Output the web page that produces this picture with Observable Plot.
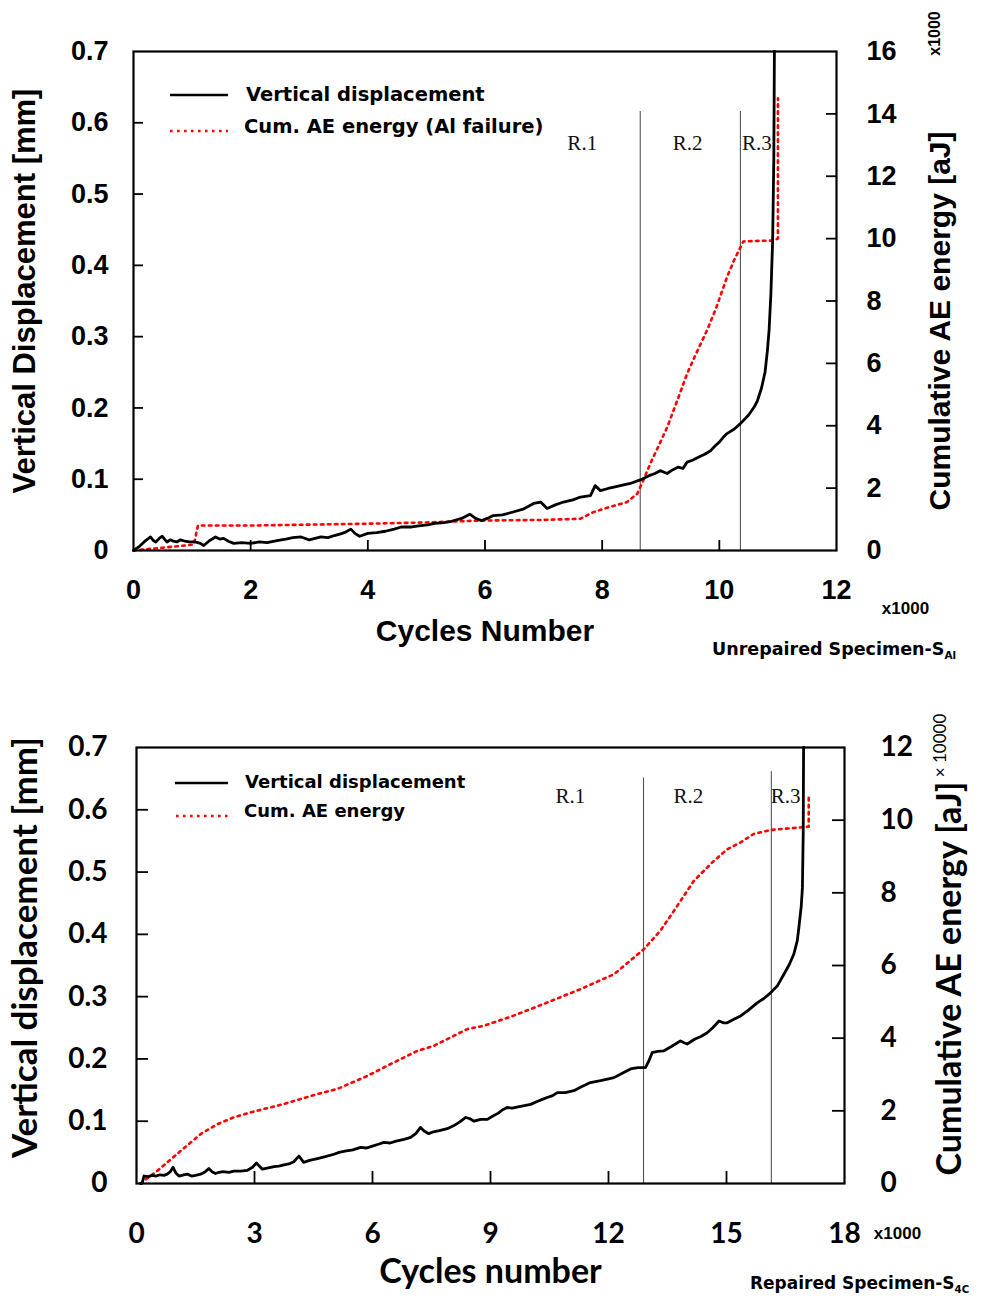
<!DOCTYPE html>
<html><head><meta charset="utf-8">
<script src="https://cdn.jsdelivr.net/npm/d3@7"></script>
<script src="https://cdn.jsdelivr.net/npm/@observablehq/plot@0.6"></script>
<style>
body{margin:0;background:#fff;}
#wrap{position:relative;width:983px;height:1297px;overflow:hidden;background:#fff;}
.panel{position:absolute;left:0;}
.leg{position:absolute;font-family:"DejaVu Sans",Verdana,sans-serif;font-weight:bold;white-space:nowrap;color:#000;line-height:1;}
.cap{position:absolute;font-family:"DejaVu Sans",Verdana,sans-serif;font-weight:bold;white-space:nowrap;color:#000;line-height:1;}
.cap sub{font-size:0.6em;vertical-align:-0.35em;}
svg.legline{position:absolute;overflow:visible;}
</style></head><body><div id="wrap"></div>
<script>
// ---------- Top panel (Unrepaired specimen) ----------
const topXTicks = [0, 2, 4, 6, 8, 10, 12];             // cycles x1000
const topYTicks = [0, 0.1, 0.2, 0.3, 0.4, 0.5, 0.6, 0.7]; // mm
const topY2Ticks = [0, 2, 4, 6, 8, 10, 12, 14, 16];    // aJ x1000
const topRegions = [8.65, 10.36];
const topRegionTop = [0.616, 0.616];
const topRegionLabels = ["R.1", "R.2", "R.3"];
const topRegionLabelX = [7.66, 9.46, 10.64];
const topDisp = [
  [0,0],[0.09,0.005],[0.18,0.012],[0.24,0.016],[0.29,0.019],[0.34,0.014],[0.38,0.012],[0.44,0.017],[0.49,0.02],[0.54,0.015],[0.57,0.012],[0.63,0.015],[0.68,0.013],[0.74,0.012],[0.8,0.015],[0.88,0.013],[0.95,0.012],[1.05,0.012],[1.14,0.01],[1.2,0.007],[1.3,0.014],[1.4,0.019],[1.47,0.016],[1.54,0.017],[1.62,0.013],[1.71,0.01],[1.85,0.011],[2.0,0.01],[2.15,0.012],[2.28,0.011],[2.45,0.014],[2.6,0.016],[2.72,0.018],[2.86,0.019],[3.0,0.015],[3.1,0.017],[3.2,0.019],[3.32,0.018],[3.43,0.021],[3.52,0.023],[3.6,0.025],[3.71,0.03],[3.78,0.024],[3.86,0.02],[4.0,0.024],[4.15,0.025],[4.3,0.027],[4.45,0.03],[4.57,0.033],[4.75,0.033],[4.9,0.035],[5.02,0.036],[5.14,0.038],[5.3,0.039],[5.43,0.041],[5.6,0.045],[5.74,0.051],[5.84,0.045],[5.94,0.042],[6.04,0.045],[6.14,0.049],[6.3,0.05],[6.48,0.054],[6.65,0.058],[6.83,0.066],[6.95,0.068],[7.06,0.059],[7.2,0.064],[7.34,0.068],[7.5,0.071],[7.63,0.075],[7.8,0.077],[7.88,0.091],[7.97,0.084],[8.1,0.087],[8.2,0.089],[8.31,0.091],[8.48,0.094],[8.65,0.099],[8.8,0.105],[8.9,0.108],[8.99,0.112],[9.11,0.108],[9.2,0.113],[9.3,0.117],[9.38,0.115],[9.45,0.124],[9.55,0.127],[9.65,0.131],[9.75,0.135],[9.85,0.14],[9.93,0.147],[10.0,0.152],[10.08,0.16],[10.13,0.164],[10.25,0.17],[10.36,0.178],[10.5,0.19],[10.6,0.202],[10.65,0.21],[10.72,0.228],[10.78,0.25],[10.82,0.28],[10.85,0.31],[10.88,0.36],[10.91,0.435],[10.93,0.55],[10.94,0.7]
];
const topAE = [
  [0,0],[0.5,0.09],[1.03,0.19],[1.1,0.8],[2,0.8],[3,0.83],[4,0.86],[5,0.9],[5.92,0.96],[7,0.98],[7.63,1.02],[7.85,1.23],[8.1,1.38],[8.42,1.55],[8.6,1.82],[8.7,2.24],[8.82,2.78],[8.95,3.3],[9.11,3.95],[9.3,4.9],[9.45,5.67],[9.6,6.3],[9.8,7.1],[9.95,7.8],[10.13,8.76],[10.25,9.3],[10.36,9.72],[10.41,9.91],[10.7,9.93],[10.92,9.94],[11.0,10.0],[11.0,14.5]
];

// ---------- Bottom panel (Repaired specimen) ----------
const botXTicks = [0, 3, 6, 9, 12, 15, 18];
const botYTicks = [0, 0.1, 0.2, 0.3, 0.4, 0.5, 0.6, 0.7];
const botY2Ticks = [0, 2, 4, 6, 8, 10, 12];            // aJ x10000
const botRegions = [12.89, 16.14];
const botRegionTop = [0.651, 0.661];
const botRegionLabels = ["R.1", "R.2", "R.3"];
const botRegionLabelX = [11.03, 14.03, 16.5];
const botDisp = [
  [0.1,0],[0.14,0.0],[0.19,0.012],[0.3,0.011],[0.4,0.013],[0.5,0.012],[0.6,0.014],[0.7,0.013],[0.78,0.015],[0.86,0.019],[0.93,0.026],[1.0,0.017],[1.08,0.012],[1.2,0.014],[1.3,0.015],[1.4,0.012],[1.5,0.013],[1.63,0.015],[1.75,0.019],[1.84,0.024],[1.92,0.019],[2.01,0.016],[2.1,0.018],[2.2,0.019],[2.35,0.018],[2.47,0.02],[2.65,0.02],[2.81,0.021],[2.95,0.026],[3.05,0.033],[3.12,0.028],[3.2,0.023],[3.35,0.025],[3.5,0.027],[3.62,0.028],[3.75,0.03],[3.9,0.032],[4.0,0.035],[4.13,0.044],[4.18,0.04],[4.25,0.034],[4.4,0.037],[4.6,0.04],[4.8,0.043],[5.02,0.047],[5.15,0.05],[5.3,0.052],[5.5,0.054],[5.7,0.058],[5.85,0.057],[6.0,0.06],[6.15,0.063],[6.29,0.066],[6.45,0.065],[6.6,0.068],[6.8,0.071],[6.97,0.074],[7.1,0.08],[7.22,0.09],[7.32,0.084],[7.43,0.08],[7.55,0.083],[7.7,0.085],[7.9,0.088],[8.07,0.093],[8.22,0.099],[8.37,0.106],[8.48,0.104],[8.58,0.1],[8.75,0.103],[8.92,0.103],[9.05,0.108],[9.2,0.113],[9.3,0.118],[9.42,0.122],[9.55,0.121],[9.7,0.123],[9.86,0.125],[10.02,0.127],[10.2,0.132],[10.32,0.135],[10.44,0.138],[10.58,0.141],[10.7,0.146],[10.9,0.146],[11.12,0.149],[11.3,0.155],[11.54,0.162],[11.8,0.165],[12.0,0.168],[12.14,0.17],[12.35,0.177],[12.56,0.184],[12.75,0.186],[12.94,0.186],[13.02,0.196],[13.11,0.21],[13.25,0.212],[13.41,0.213],[13.6,0.22],[13.83,0.229],[13.92,0.226],[14.0,0.224],[14.2,0.232],[14.35,0.236],[14.51,0.242],[14.65,0.25],[14.81,0.261],[14.92,0.258],[15.02,0.258],[15.2,0.264],[15.36,0.269],[15.55,0.278],[15.78,0.29],[15.95,0.297],[16.12,0.306],[16.3,0.318],[16.46,0.336],[16.6,0.352],[16.71,0.368],[16.8,0.39],[16.84,0.411],[16.9,0.445],[16.93,0.475],[16.95,0.561],[16.96,0.7]
];
const botAE = [
  [0.1,0],[0.53,0.35],[1.03,0.81],[1.63,1.36],[2.05,1.63],[2.47,1.82],[2.98,1.98],[3.75,2.19],[4.59,2.46],[5.1,2.6],[5.87,2.96],[6.37,3.24],[7.14,3.65],[7.56,3.79],[8.41,4.25],[8.83,4.34],[9.59,4.62],[10.44,4.98],[11.29,5.35],[12.14,5.76],[12.9,6.45],[13.32,6.96],[13.66,7.5],[14.17,8.33],[14.68,8.88],[15.02,9.2],[15.36,9.39],[15.69,9.62],[16.12,9.73],[17.09,9.82],[17.09,10.62]
];

function fmtY(d) { return d === 0 ? "0" : d.toFixed(1); }

function makePanel(o) {
  const fw = o.width - o.ml - o.mr, fh = o.height - o.mt - o.mb;
  const k = o.yMax / o.y2Max;
  const bold = "bold";
  return Plot.plot({
    width: o.width, height: o.height,
    marginLeft: o.ml, marginRight: o.mr, marginTop: o.mt, marginBottom: o.mb,
    x: {domain: [0, o.xMax]}, y: {domain: [0, o.yMax]},
    style: {fontFamily: o.font, color: "#000", background: "transparent", overflow: "visible"},
    marks: [
      Plot.ruleX(o.regions, {x: d => d, y1: 0, y2: (d, i) => o.regionTop[i], stroke: "#555", strokeWidth: 1.1}),
      Plot.text(o.regionLabels, {x: (d, i) => o.regionLabelX[i], y: o.regionLabelY, text: d => d, fontFamily: "Liberation Serif, Times New Roman, serif", fontSize: 21, fill: "#111"}),
      Plot.line(o.ae, {x: d => d[0], y: d => d[1] * k, stroke: "#ff0000", strokeWidth: 2.6, strokeDasharray: "2.6,4.4"}),
      Plot.line(o.disp, {x: d => d[0], y: d => d[1], stroke: "#000", strokeWidth: 2.8, strokeLinejoin: "round"}),
      Plot.frame({stroke: "#000", strokeWidth: 2.2}),
      Plot.tickY(o.yTicks.slice(1, -1), {y: d => d, insetRight: fw - o.tick, strokeWidth: 1.8}),
      Plot.tickY(o.y2Ticks.slice(1, -1), {y: d => d * k, insetLeft: fw - o.tick, strokeWidth: 1.8}),
      Plot.tickX(o.xTicks.slice(1, -1), {x: d => d, insetTop: fh - o.tick, strokeWidth: 1.8}),
      Plot.axisY(o.yTicks, {anchor: "left", tickSize: 0, tickPadding: o.padL, fontSize: o.fs, fontWeight: bold, label: null, tickFormat: fmtY}),
      Plot.axisY(o.y2Ticks.map(v => v * k), {anchor: "right", tickSize: 0, tickPadding: o.padR, fontSize: o.fs, fontWeight: bold, label: null, tickFormat: d => String(Math.round(d / k))}),
      Plot.axisX(o.xTicks, {anchor: "bottom", tickSize: 0, tickPadding: o.padB, fontSize: o.fs, fontWeight: bold, label: null, tickFormat: d => String(d)}),
      Plot.text([o.xTitle], {frameAnchor: "bottom", textAnchor: "middle", dy: o.xTitleDy, fontSize: o.titleFs, fontWeight: bold}),
      Plot.text([o.yTitle], {frameAnchor: "left", textAnchor: "middle", dx: o.yTitleDx, dy: o.yTitleDy, rotate: -90, fontSize: o.yTitleFs, fontWeight: bold}),
      Plot.text([o.y2Title], {frameAnchor: "right", textAnchor: "middle", dx: o.y2TitleDx, dy: o.y2TitleDy, rotate: -90, fontSize: o.titleFs, fontWeight: bold}),
      Plot.text([o.y2Mult], {frameAnchor: "top-right", textAnchor: "middle", dx: o.y2MultDx, dy: o.y2MultDy, rotate: -90, fontSize: o.multFs, fontWeight: o.multWeight, fontFamily: o.multFont}),
      Plot.text(["x1000"], {frameAnchor: "bottom-right", textAnchor: "middle", dx: o.xMultDx, dy: o.xMultDy, fontSize: 17, fontWeight: bold, fontFamily: "Liberation Sans, Arial, sans-serif"})
    ]
  });
}

const wrap = document.getElementById("wrap");

const topPlot = makePanel({
  width: 983, height: 665, ml: 133, mr: 147, mt: 51, mb: 115,
  xMax: 12, yMax: 0.7, y2Max: 16, font: "Liberation Sans, Arial, sans-serif", fs: 27, titleFs: 30, yTitleFs: 31,
  xTicks: topXTicks, yTicks: topYTicks, y2Ticks: topY2Ticks,
  regions: topRegions, regionTop: topRegionTop, regionLabels: topRegionLabels, regionLabelX: topRegionLabelX, regionLabelY: 0.571,
  disp: topDisp, ae: topAE, tick: 10, padL: 25, padR: 30, padB: 29,
  xTitle: "Cycles Number", xTitleDy: 90,
  yTitle: "Vertical Displacement [mm]", yTitleDx: -108, yTitleDy: -10,
  y2Title: "Cumulative AE energy [aJ]", y2TitleDx: 104, y2TitleDy: 20,
  y2Mult: "x1000", y2MultDx: 92, y2MultDy: -18, multFs: 16, multWeight: "bold", multFont: "Liberation Sans, Arial, sans-serif",
  xMultDx: 69, xMultDy: 63
});
const d1 = document.createElement("div"); d1.className = "panel"; d1.style.top = "0px"; d1.appendChild(topPlot); wrap.appendChild(d1);

const botPlot = makePanel({
  width: 983, height: 632, ml: 136, mr: 139, mt: 82, mb: 114,
  xMax: 18, yMax: 0.7, y2Max: 12, font: "Lato, Open Sans, sans-serif", fs: 28, titleFs: 34, yTitleFs: 35,
  xTicks: botXTicks, yTicks: botYTicks, y2Ticks: botY2Ticks,
  regions: botRegions, regionTop: botRegionTop, regionLabels: botRegionLabels, regionLabelX: botRegionLabelX, regionLabelY: 0.622,
  disp: botDisp, ae: botAE, tick: 12, padL: 29, padR: 36, padB: 40,
  xTitle: "Cycles number", xTitleDy: 99,
  yTitle: "Vertical displacement [mm]", yTitleDx: -111, yTitleDy: -18,
  y2Title: "Cumulative AE energy [aJ]", y2TitleDx: 106, y2TitleDy: 13,
  y2Mult: "× 10000", y2MultDx: 89, y2MultDy: -2, multFs: 17, multWeight: "normal", multFont: "Lato, sans-serif",
  xMultDx: 53, xMultDy: 55
});
const d2 = document.createElement("div"); d2.className = "panel"; d2.style.top = "665px"; d2.appendChild(botPlot); wrap.appendChild(d2);

// ---------- legends & captions ----------
function legendLine(x1, x2, y, dashed) {
  const s = d3.create("svg").attr("class", "legline").attr("width", x2 - x1).attr("height", 6)
    .style("left", x1 + "px").style("top", (y - 3) + "px");
  s.append("line").attr("x1", 0).attr("x2", x2 - x1).attr("y1", 3).attr("y2", 3)
    .attr("stroke", dashed ? "#ff0000" : "#000").attr("stroke-width", 2.6)
    .attr("stroke-dasharray", dashed ? "2.6,4.4" : null);
  wrap.appendChild(s.node());
}
function label(text, x, yc, fs, cls) {
  const el = document.createElement("div");
  el.className = cls || "leg";
  el.innerHTML = text;
  el.style.left = x + "px";
  el.style.top = (yc - fs / 2) + "px";
  el.style.fontSize = fs + "px";
  wrap.appendChild(el);
}
const legendTexts = ["Vertical displacement", "Cum. AE energy (Al failure)", "Cum. AE energy"];
legendLine(170, 228, 95, false); label(legendTexts[0], 246, 95, 19.5);
legendLine(170, 228, 131, true); label(legendTexts[1], 244, 127, 19.5);
legendLine(175, 228, 783, false); label(legendTexts[0], 245, 782, 18);
legendLine(176, 228, 816, true); label(legendTexts[2], 244, 811, 18);
label("Unrepaired Specimen-S<sub>Al</sub>", 712, 650, 17.5, "cap");
label("Repaired Specimen-S<sub>4C</sub>", 750, 1283, 17, "cap");
</script></body></html>
